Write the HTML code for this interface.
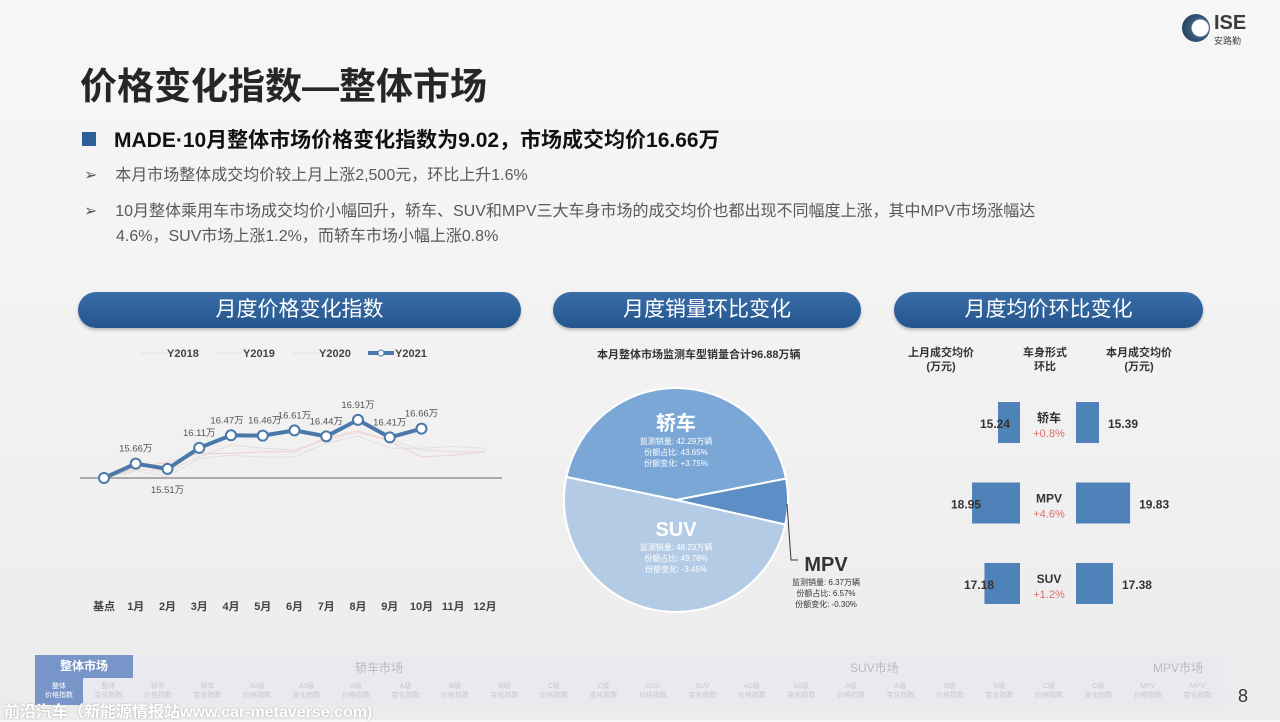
<!DOCTYPE html>
<html><head><meta charset="utf-8">
<style>
*{margin:0;padding:0;box-sizing:border-box}
body{width:1280px;height:720px;overflow:hidden;background:linear-gradient(180deg,#f7f7f7 0%,#f1f1f1 60%,#ececec 100%);font-family:"Liberation Sans","Noto Sans CJK SC",sans-serif;position:relative}
.abs{position:absolute;white-space:nowrap}
.pill{position:absolute;top:292px;height:36px;border-radius:18px;background:linear-gradient(180deg,#3a6ea8,#24548c);color:#fff;font-size:21px;text-align:center;line-height:36px;box-shadow:0 2px 3px rgba(0,0,0,.25)}
.bl{font-size:16px;color:#595959}
.cell{position:absolute;top:27px;width:48px;font-size:7px;color:#c8c8cc;text-align:center;line-height:9px}
</style></head><body>
<div class="abs" style="left:80px;top:56px;font-size:37px;font-weight:bold;color:#262626">价格变化指数—整体市场</div>
<div class="abs" style="left:1180px;top:12px;width:92px;height:34px">
 <div style="position:absolute;left:2px;top:2px;width:28px;height:28px;border-radius:50%;background:radial-gradient(circle at 65% 50%,#fff 35%,#3b5d80 40%,#1d3550 100%)"></div>
 <div style="position:absolute;left:34px;top:0;font-size:20px;font-weight:bold;color:#3a3a3a">ISE</div>
 <div style="position:absolute;left:34px;top:22px;font-size:9px;color:#444">安路勤</div>
</div>
<div class="abs" style="left:82px;top:124px;font-size:21px;font-weight:bold;color:#111"><span style="display:inline-block;width:14px;height:14px;background:#2e5f98;margin-right:18px;vertical-align:1px"></span>MADE·10月整体市场价格变化指数为9.02，市场成交均价16.66万</div>
<div class="abs bl" style="left:84px;top:161px">➢&nbsp;&nbsp;&nbsp;&nbsp;本月市场整体成交均价较上月上涨2,500元，环比上升1.6%</div>
<div class="abs bl" style="left:84px;top:197px">➢&nbsp;&nbsp;&nbsp;&nbsp;10月整体乘用车市场成交均价小幅回升，轿车、SUV和MPV三大车身市场的成交均价也都出现不同幅度上涨，其中MPV市场涨幅达</div>
<div class="abs bl" style="left:116px;top:222px">4.6%，SUV市场上涨1.2%，而轿车市场小幅上涨0.8%</div>

<div class="pill" style="left:78px;width:443px">月度价格变化指数</div>
<div class="pill" style="left:553px;width:308px">月度销量环比变化</div>
<div class="pill" style="left:894px;width:309px">月度均价环比变化</div>

<svg id="lc" class="abs" style="left:0;top:0" width="1280" height="720"></svg>

<div class="abs" style="left:597px;top:346px;font-size:11px;font-weight:bold;color:#333">本月整体市场监测车型销量合计96.88万辆</div>

<div class="abs" style="left:908px;top:346px;font-size:11px;font-weight:bold;color:#333;text-align:center;line-height:14px">上月成交均价<br>(万元)</div>
<div class="abs" style="left:1023px;top:346px;font-size:11px;font-weight:bold;color:#333;text-align:center;line-height:14px">车身形式<br>环比</div>
<div class="abs" style="left:1106px;top:346px;font-size:11px;font-weight:bold;color:#333;text-align:center;line-height:14px">本月成交均价<br>(万元)</div>

<div class="abs" id="nav" style="left:35px;top:655px;width:1190px;height:50px;background:#e9eaef">
 <div style="position:absolute;left:0;top:0;width:98px;height:23px;background:#7895c9;color:#fff;font-size:12px;font-weight:bold;text-align:center;line-height:23px">整体市场</div>
 <div style="position:absolute;left:320px;top:4px;font-size:12px;color:#bbb">轿车市场</div>
 <div style="position:absolute;left:815px;top:4px;font-size:12px;color:#bbb">SUV市场</div>
 <div style="position:absolute;left:1118px;top:4px;font-size:12px;color:#bbb">MPV市场</div>
 <div style="position:absolute;left:0;top:23px;width:48px;height:27px;background:#7895c9"></div>
</div>
<div class="abs" style="left:1238px;top:686px;font-size:18px;color:#333">8</div>
<div class="abs" style="left:4px;top:698px;font-size:16px;font-weight:bold;color:#fff;text-shadow:0 0 2px #aaa">前沿汽车（新能源情报站www.car-metaverse.com)</div>

<script>
const months=["基点","1月","2月","3月","4月","5月","6月","7月","8月","9月","10月","11月","12月"];
const y2021=[15.25,15.66,15.51,16.11,16.47,16.46,16.61,16.44,16.91,16.41,16.66];
const y2018=[15.25,15.5,15.45,15.85,16.2,16.1,16.05,16.35,16.55,16.35,16.05,16.0,16.0];
const y2019=[15.25,15.55,15.7,15.95,15.95,16.0,16.0,16.4,16.6,16.3,15.85,15.9,16.0];
const y2020=[15.25,15.45,15.3,15.8,15.9,15.85,15.85,16.25,16.45,16.1,16.1,16.15,16.1];
const legend=["Y2018","Y2019","Y2020","Y2021"];
const pieCats=["轿车","MPV","SUV"];
const pieShare=[43.65,6.57,49.78];
const pieSales=["42.29万辆","6.37万辆","48.23万辆"];
const pieChg=["+3.75%","-0.30%","-3.45%"];
const bodyTypes=["轿车","MPV","SUV"];
const lastPrice=[15.24,18.95,17.18];
const thisPrice=[15.39,19.83,17.38];
const momChg=["+0.8%","+4.6%","+1.2%"];
const navCells=["整体\n价格指数","整体\n变化指数","轿车\n价格指数","轿车\n变化指数","A0级\n价格指数","A0级\n变化指数","A级\n价格指数","A级\n变化指数","B级\n价格指数","B级\n变化指数","C级\n价格指数","C级\n变化指数","SUV\n价格指数","SUV\n变化指数","A0级\n价格指数","A0级\n变化指数","A级\n价格指数","A级\n变化指数","B级\n价格指数","B级\n变化指数","C级\n价格指数","C级\n变化指数","MPV\n价格指数","MPV\n变化指数"];

const nav=document.getElementById('nav');
navCells.forEach((c,i)=>{const d=document.createElement('div');d.className='cell';d.style.left=(i*49.5)+'px';d.innerHTML=c.replace('\n','<br>');
if(i==0)d.style.color='#fff';


nav.appendChild(d);});

const NS="http://www.w3.org/2000/svg";
const svg=document.getElementById('lc');
function mk(t,a,p){const e=document.createElementNS(NS,t);for(const k in a)e.setAttribute(k,a[k]);(p||svg).appendChild(e);return e;}
const X=i=>104+i*31.75;
const Y=v=>478-(v-15.25)*35;
let ax=mk('line',{x1:80,y1:478,x2:502,y2:478,stroke:'#666','stroke-width':1});

months.forEach((m,i)=>{const t=mk('text',{x:X(i),y:610,'text-anchor':'middle','font-size':11,'font-weight':'bold',fill:'#444'});t.textContent=m;
});
[[y2018,'#e8dcd8'],[y2019,'#f0d0d0'],[y2020,'#e0e0e0']].forEach(([s,c])=>{
 const l=mk('polyline',{points:s.map((v,i)=>X(i)+','+Y(v)).join(' '),fill:'none',stroke:c,'stroke-width':1});
 });
const pl=mk('polyline',{points:y2021.map((v,i)=>X(i)+','+Y(v)).join(' '),fill:'none',stroke:'#4a78a8','stroke-width':4});

y2021.forEach((v,i)=>{const c=mk('circle',{cx:X(i),cy:Y(v),r:5,fill:'#fff',stroke:'#4a78a8','stroke-width':2});

if(i>0){const below=(i==2);const t=mk('text',{x:X(i)+(i==4?-4:i==5?2:0),y:below?Y(v)+24:Y(v)-12,'text-anchor':'middle','font-size':9.5,fill:'#555'});t.textContent=v.toFixed(2)+'万';
}});
legend.forEach((n,i)=>{const lx=140+i*76;
 const l=mk('line',{x1:lx,y1:353,x2:lx+26,y2:353,stroke:i==3?'#4a78a8':'#e6e0e0','stroke-width':i==3?4:1});
 if(i==3)mk('circle',{cx:lx+13,cy:353,r:3,fill:'#fff',stroke:'#4a78a8'});
 const t=mk('text',{x:lx+27,y:357,'font-size':11,'font-weight':'bold',fill:'#444'});t.textContent=n;
 });
// pie
const cx=676,cy=500,r=112;const cols=['#7ba7d7','#5b8fc5','#b4cbe6'];
const a0=-11*Math.PI/180;
const sweeps=pieShare.map(p=>p/100*2*Math.PI);
const segs=[[a0-sweeps[0],a0],[a0,a0+sweeps[1]],[a0+sweeps[1],a0+sweeps[1]+sweeps[2]]];
segs.forEach(([s,e],i)=>{const p1=[cx+r*Math.cos(s),cy+r*Math.sin(s)],p2=[cx+r*Math.cos(e),cy+r*Math.sin(e)];
 const large=(e-s)>Math.PI?1:0;
 const p=mk('path',{d:`M${cx},${cy} L${p1[0]},${p1[1]} A${r},${r} 0 ${large} 1 ${p2[0]},${p2[1]} Z`,fill:cols[i],stroke:'#fff','stroke-width':2});
 });
function lbl(x,y,name,i,big,col){const t=mk('text',{x:x,y:y,'text-anchor':'middle','font-size':big,'font-weight':'bold',fill:col});t.textContent=name;
 
 ['监测销量: '+pieSales[i],'份额占比: '+pieShare[i].toFixed(2)+'%','份额变化: '+pieChg[i]].forEach((s,k)=>{const q=mk('text',{x:x,y:y+14+k*11,'text-anchor':'middle','font-size':8,fill:col=='#fff'?'#fff':'#333'});q.textContent=s;});}
lbl(676,430,pieCats[0],0,20,'#fff');lbl(676,536,pieCats[2],2,20,'#fff');
mk('polyline',{points:'787,504 791,560 798,560',fill:'none',stroke:'#333','stroke-width':1});
lbl(826,571,pieCats[1],1,20,'#333');
// bars
bodyTypes.forEach((b,i)=>{const yy=402+i*80.5;const wl=7*(lastPrice[i]-12.1),wr=7*(thisPrice[i]-12.1);
 const r1=mk('rect',{x:1020-wl,y:yy,width:wl,height:41,fill:'#4f82b8'});
 const r2=mk('rect',{x:1076,y:yy,width:wr,height:41,fill:'#4f82b8'});
 let t=mk('text',{x:[995,966,979][i],y:yy+26,'font-size':12,'font-weight':'bold',fill:'#333','text-anchor':'middle'});t.textContent=lastPrice[i].toFixed(2);
 t=mk('text',{x:1076+wr+24,y:yy+26,'font-size':12,'font-weight':'bold',fill:'#333','text-anchor':'middle'});t.textContent=thisPrice[i].toFixed(2);
 t=mk('text',{x:1049,y:yy+20,'font-size':12,'font-weight':'bold',fill:'#333','text-anchor':'middle'});t.textContent=b;
 t=mk('text',{x:1049,y:yy+35,'font-size':11,fill:'#e26a6a','text-anchor':'middle'});t.textContent=momChg[i];});
</script>
</body></html>
